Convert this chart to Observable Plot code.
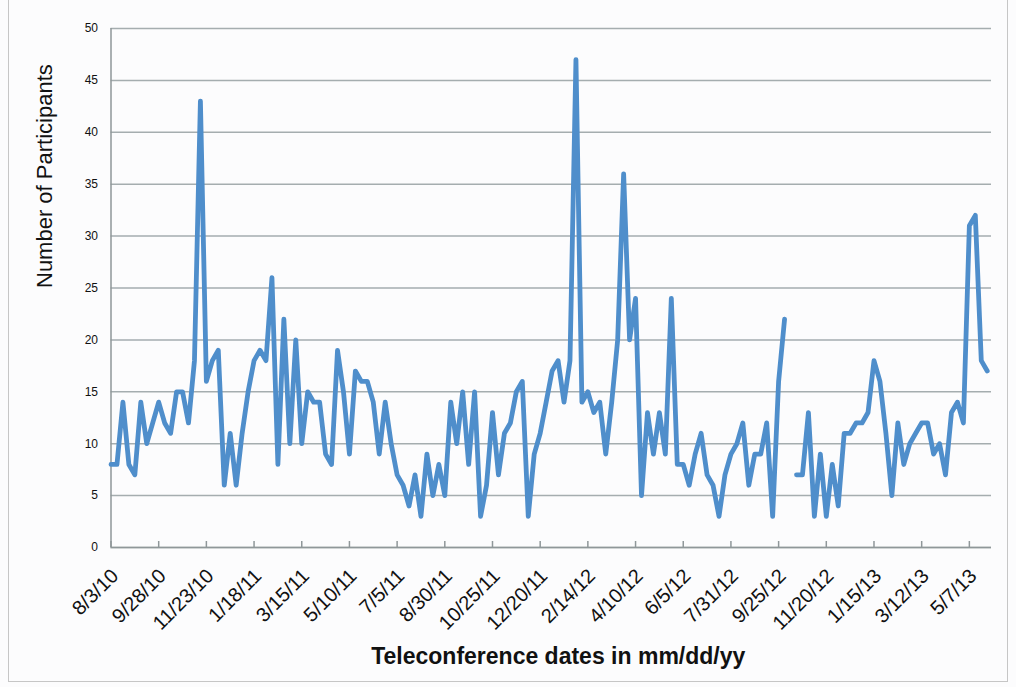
<!DOCTYPE html>
<html><head><meta charset="utf-8">
<script src="https://cdn.jsdelivr.net/npm/d3@7"></script>
<script src="https://cdn.jsdelivr.net/npm/@observablehq/plot@0.6"></script>
<style>
html,body{margin:0;padding:0;background:#fcfcfd;}
#wrap{position:relative;width:1016px;height:687px;overflow:hidden;}
#frame{position:absolute;left:8px;top:-2px;width:1000px;height:684px;border:1.5px solid #c6c6c6;box-sizing:border-box;pointer-events:none;}
svg{display:block;}
</style></head><body><div id="wrap"><div id="frame"></div></div>
<script>
// Weekly teleconferences, first one on 8/3/10 (null = no call that week)
const firstMeeting = "2010-08-03";
const participants = [
  8, 8, 14, 8, 7, 14, 10, 12, 14, 12, 11, 15, 15, 12, 18, 43, 16, 18, 19, 6,
  11, 6, 11, 15, 18, 19, 18, 26, 8, 22, 10, 20, 10, 15, 14, 14, 9, 8, 19, 15,
  9, 17, 16, 16, 14, 9, 14, 10, 7, 6, 4, 7, 3, 9, 5, 8, 5, 14, 10, 15,
  8, 15, 3, 6, 13, 7, 11, 12, 15, 16, 3, 9, 11, 14, 17, 18, 14, 18, 47, 14,
  15, 13, 14, 9, 14, 20, 36, 20, 24, 5, 13, 9, 13, 9, 24, 8, 8, 6, 9, 11,
  7, 6, 3, 7, 9, 10, 12, 6, 9, 9, 12, 3, 16, 22, null, 7, 7, 13, 3, 9,
  3, 8, 4, 11, 11, 12, 12, 13, 18, 16, 11, 5, 12, 8, 10, 11, 12, 12, 9, 10,
  7, 13, 14, 12, 31, 32, 18, 17
];
const tickLabels = [
  "8/3/10", "9/28/10", "11/23/10", "1/18/11", "3/15/11", "5/10/11", "7/5/11",
  "8/30/11", "10/25/11", "12/20/11", "2/14/12", "4/10/12", "6/5/12", "7/31/12",
  "9/25/12", "11/20/12", "1/15/13", "3/12/13", "5/7/13"
];
const tickEvery = 8; // weeks between labelled dates
const yTicks = [0, 5, 10, 15, 20, 25, 30, 35, 40, 45, 50];
const xTitle = "Teleconference dates in mm/dd/yy";
const yTitle = "Number of Participants";

const start = new Date(firstMeeting + "T00:00:00Z");
const dates = participants.map((_, i) => d3.utcDay.offset(start, 7 * i));
const data = participants.map((v, i) => ({date: dates[i], n: v}));
const tickDates = dates.filter((_, i) => i % tickEvery === 0);
const labelByTime = new Map(tickDates.map((d, k) => [+d, tickLabels[k]]));
const end = d3.utcDay.offset(dates[dates.length - 1], 5);

const axisColor = "#8f9799";
const chart = Plot.plot({
  width: 1016,
  height: 687,
  marginLeft: 110.5,
  marginRight: 25,
  marginTop: 28,
  marginBottom: 140,
  style: {background: "transparent", fontFamily: "'Liberation Sans', Arial, sans-serif", color: "#111"},
  x: {type: "utc", domain: [start, end]},
  y: {domain: [0, 50]},
  marks: [
    Plot.gridY(yTicks, {stroke: "#a5adaf", strokeOpacity: 1, strokeWidth: 1.5}),
    Plot.ruleY([0], {stroke: axisColor, strokeWidth: 1.5}),
    Plot.ruleX([start], {stroke: axisColor, strokeWidth: 1.5}),
    Plot.ruleX(tickDates, {x: d => d, y1: 0, y2: 0, insetBottom: 6, stroke: axisColor, strokeWidth: 1.5}),
    Plot.axisY(yTicks, {tickSize: 0, tickPadding: 13, fontSize: 12, label: null}),
    Plot.axisX(tickDates, {
      tickSize: 0, tickFormat: d => labelByTime.get(+d), tickRotate: -45,
      textAnchor: "end", lineAnchor: "middle", tickPadding: 25, dx: 4, fontSize: 20, label: null
    }),
    Plot.lineY(data, {x: "date", y: "n", stroke: "#4f8ecb", strokeWidth: 4.8, strokeLinejoin: "round", strokeLinecap: "round"}),
    Plot.text([xTitle], {text: d => d, frameAnchor: "bottom", dy: 116, dx: 7, fontSize: 23, fontWeight: "bold", fill: "#111"}),
    Plot.text([yTitle], {text: d => d, frameAnchor: "left", rotate: -90, dx: -66, fontSize: 22, fill: "#111"})
  ]
});
document.getElementById("wrap").prepend(chart);
</script>
</body></html>
